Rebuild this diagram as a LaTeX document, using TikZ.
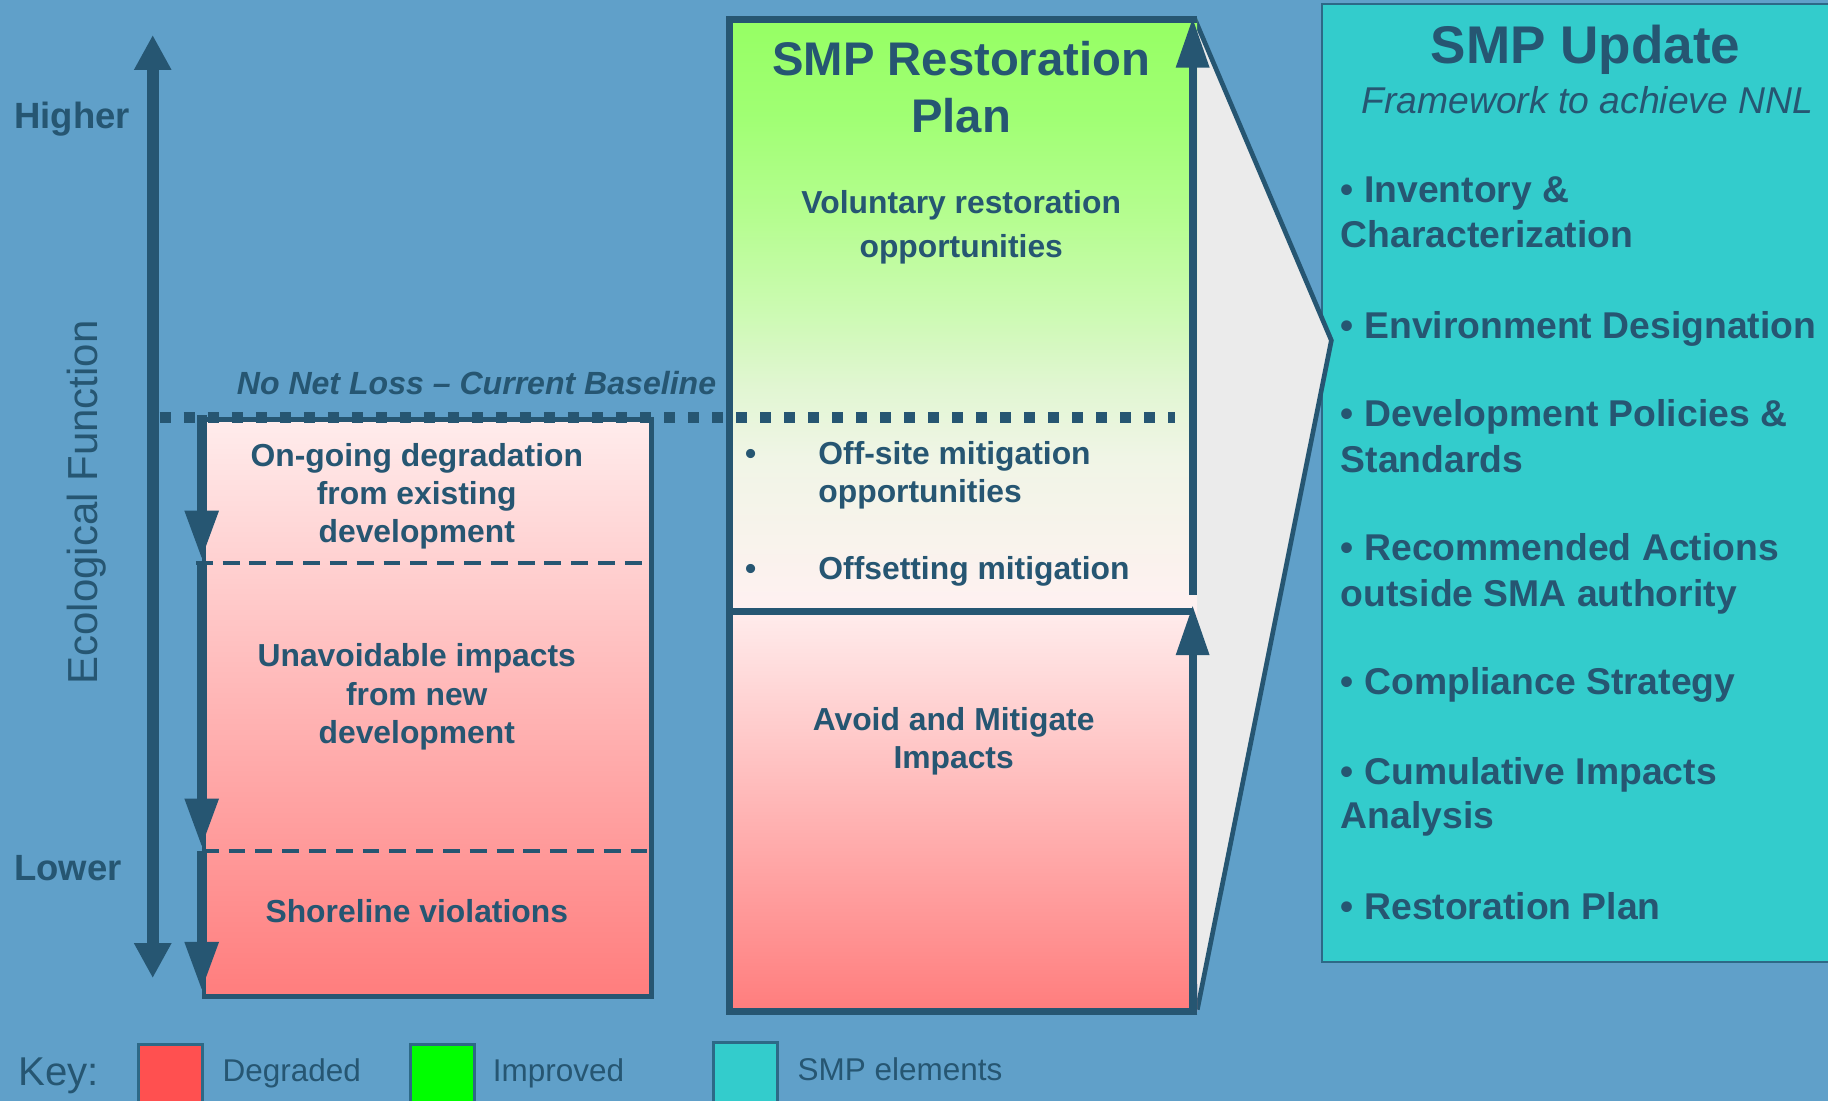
\documentclass[tikz,border=0pt]{standalone}
\usepackage{fontspec}
\setmainfont{Liberation Sans}
\usetikzlibrary{arrows.meta}
\definecolor{bgblue}{RGB}{96,160,201}
\definecolor{darkc}{RGB}{38,86,114}
\definecolor{tealc}{RGB}{51,204,204}
\definecolor{tealedge}{RGB}{45,105,135}
\definecolor{grayc}{RGB}{235,235,235}
\definecolor{pinkT}{RGB}{255,236,236}
\definecolor{pinkB}{RGB}{255,125,125}
\definecolor{gA}{RGB}{150,255,100}
\definecolor{gB}{RGB}{160,255,115}
\definecolor{gC}{RGB}{182,253,145}
\definecolor{gD}{RGB}{205,250,180}
\definecolor{gE}{RGB}{225,246,210}
\definecolor{gF}{RGB}{240,245,230}
\definecolor{gG}{RGB}{255,241,241}
\definecolor{keyred}{RGB}{255,80,80}
\definecolor{keygreen}{RGB}{0,255,0}
\pgfdeclareverticalshading{pinkshade}{100bp}{color(0bp)=(pinkB); color(25bp)=(pinkB); color(75bp)=(pinkT); color(100bp)=(pinkT)}
\pgfdeclareverticalshading{greenshade}{100bp}{color(0bp)=(gG); color(25bp)=(gG); color(38bp)=(gF); color(44bp)=(gE); color(50bp)=(gD); color(58bp)=(gC); color(67bp)=(gB); color(75bp)=(gA); color(100bp)=(gA)}
\begin{document}
\begin{tikzpicture}[x=1pt,y=-1pt,
  txt/.style={text=darkc, inner sep=0pt},
  body/.style={txt, font=\bfseries\fontsize{27.3}{33}\selectfont},
  axislbl/.style={txt, font=\bfseries\fontsize{31.3}{37}\selectfont},
  ecolbl/.style={txt, font=\fontsize{36}{43}\selectfont},
  nnlbl/.style={txt, font=\bfseries\itshape\fontsize{27.5}{33}\selectfont},
  smptitle/.style={txt, font=\bfseries\fontsize{40.5}{49}\selectfont},
  updtitle/.style={txt, font=\bfseries\fontsize{45.5}{54}\selectfont},
  updsub/.style={txt, font=\itshape\fontsize{32}{38}\selectfont},
  item/.style={txt, font=\bfseries\fontsize{32}{38}\selectfont, anchor=base west},
  keylbl/.style={txt, font=\fontsize{27}{32}\selectfont, anchor=base west},
  keybox/.style={draw=tealedge, line width=2.5pt, minimum width=55pt, minimum height=60pt, inner sep=0pt, anchor=north west},
  bigarrow/.style={draw=darkc, line width=10pt, {Triangle[length=30pt,width=30pt]}-{Triangle[length=30pt,width=30pt]}},
  downarrow/.style={draw=darkc, line width=8.5pt, -{Triangle[length=42pt,width=27pt]}},
  uparrow/.style={draw=darkc, line width=7pt, -{Triangle[length=43pt,width=27pt]}},
  dashline/.style={draw=darkc, line width=3pt, dash pattern=on 14.5pt off 8.5pt},
  dotline/.style={draw=darkc, line width=9.5pt, dash pattern=on 9.5pt off 11.1pt}
]
\useasboundingbox (0,0) rectangle (1568,944);
\clip (0,0) rectangle (1568,944);
\fill[bgblue] (0,0) rectangle (1568,944);

% teal SMP Update box
\node[draw=tealedge, fill=tealc, line width=2pt, minimum width=457pt, minimum height=821.3pt, inner sep=0pt, anchor=north west] (teal) at (1133,2.7) {};

% gray callout
\coordinate (cA) at (1025,16.6);
\coordinate (cT) at (1142,292);
\coordinate (cB) at (1027,866);
\fill[grayc] (cA) -- (cT) -- (cB) -- cycle;
\draw[darkc, line width=4pt] (cA) -- (cT) -- (cB);

% left degraded box
\node[draw=darkc, line width=4pt, shade, shading=pinkshade, minimum width=384pt, minimum height=495pt, inner sep=0pt, anchor=north west] (leftbox) at (173,358) {};

% SMP restoration plan box
\node[shade, shading=greenshade, minimum width=401pt, minimum height=507.4pt, inner sep=0pt, anchor=north west] (smptop) at (625.6,16.6) {};
\node[shade, shading=pinkshade, minimum width=401pt, minimum height=343pt, inner sep=0pt, anchor=north west] (smpbot) at (625.6,524) {};
\draw[darkc, line width=6pt] (smpbot.south east) -- (smpbot.south west) -- (smptop.north west) -- (smptop.north east);
\draw[darkc, line width=6pt] (smptop.south west) -- ([xshift=-4pt]smptop.south east);

% dashed separators
\coordinate (d1L) at (168,483);
\coordinate (d1R) at (560,483);
\coordinate (d2L) at (173,730);
\coordinate (d2R) at (555,730);
\draw[dashline] (d1L) -- (d1R);
\draw[dashline] (d2L) -- (d2R);

% arrows
\coordinate (bigT) at (131,30);
\coordinate (bigB) at (131,839);
\draw[bigarrow] (bigB) -- (bigT);
\coordinate (a1s) at (173,356);
\coordinate (a1e) at (173,480);
\coordinate (a2s) at (173,483);
\coordinate (a2e) at (173,727);
\coordinate (a3s) at (173,730);
\coordinate (a3e) at (173,850);
\draw[downarrow] (a1s) -- (a1e);
\draw[downarrow] (a2s) -- (a2e);
\draw[downarrow] (a3s) -- (a3e);
\coordinate (s1s) at (1023,510);
\coordinate (s1e) at (1023,15);
\coordinate (s2s) at (1023,870);
\coordinate (s2e) at (1023,519);
\draw[uparrow] (s1s) -- (s1e);
\draw[uparrow] (s2s) -- (s2e);

% no net loss dotted baseline
\coordinate (dotL) at (137,358);
\coordinate (dotR) at (1008,358);
\draw[dotline] (dotL) -- (dotR);

% axis labels
\node[axislbl, anchor=base west] (higher) at (12,110) {Higher};
\node[axislbl, anchor=base west] (lower) at (12,755) {Lower};
\node[ecolbl, rotate=90, anchor=base] (eco) at (84,431) {Ecological Function};
\node[nnlbl, anchor=base west] (nnl) at (203,338.5) {No Net Loss -- Current Baseline};

% left box texts
\node[body, anchor=base] (og1) at (357.5,400) {On-going degradation};
\node[body, anchor=base] (og2) at (357.5,432.5) {from existing};
\node[body, anchor=base] (og3) at (357.5,465) {development};
\node[body, anchor=base] (un1) at (357.5,572) {Unavoidable impacts};
\node[body, anchor=base] (un2) at (357.5,605) {from new};
\node[body, anchor=base] (un3) at (357.5,637.5) {development};
\node[body, anchor=base] (shv) at (357.5,791.5) {Shoreline violations};

% SMP restoration plan texts
\node[smptitle, anchor=base] (rp1) at (824.5,64.4) {SMP Restoration};
\node[smptitle, anchor=base] (rp2) at (824.5,113.6) {Plan};
\node[body, anchor=base] (vo1) at (824.5,183) {Voluntary restoration};
\node[body, anchor=base] (vo2) at (824.5,220.5) {opportunities};
\node[body, anchor=base] (b1) at (644,398.5) {\textbullet};
\node[body, anchor=base west] (of1) at (701.8,398.5) {Off-site mitigation};
\node[body, anchor=base west] (of2) at (701.8,430.7) {opportunities};
\node[body, anchor=base] (b2) at (644,496.8) {\textbullet};
\node[body, anchor=base west] (os1) at (701.8,496.8) {Offsetting mitigation};
\node[body, anchor=base] (av1) at (818,627) {Avoid and Mitigate};
\node[body, anchor=base] (av2) at (818,659.4) {Impacts};

% SMP update texts
\node[updtitle, anchor=base] (ut) at (1360,54.7) {SMP Update};
\node[updsub, anchor=base] (us) at (1361.5,97.4) {Framework to achieve NNL};
\node[item] (i1a) at (1150,174) {\textbullet{} Inventory \&};
\node[item] (i1b) at (1150,212) {Characterization};
\node[item] (i2) at (1150,290) {\textbullet{} Environment Designation};
\node[item] (i3a) at (1150,365.5) {\textbullet{} Development Policies \&};
\node[item] (i3b) at (1150,405) {Standards};
\node[item] (i4a) at (1150,481) {\textbullet{} Recommended Actions};
\node[item] (i4b) at (1150,520) {outside SMA authority};
\node[item] (i5) at (1150,596) {\textbullet{} Compliance Strategy};
\node[item] (i6a) at (1150,673) {\textbullet{} Cumulative Impacts};
\node[item] (i6b) at (1150,711) {Analysis};
\node[item] (i7) at (1150,789) {\textbullet{} Restoration Plan};

% key
\node[txt, font=\fontsize{34.5}{40}\selectfont, anchor=base west] (key) at (15.6,931) {Key:};
\node[keybox, fill=keyred] (kred) at (117.7,894.4) {};
\node[keylbl] (kdeg) at (190.8,928) {Degraded};
\node[keybox, fill=keygreen] (kgreen) at (350.8,894.4) {};
\node[keylbl] (kimp) at (422.6,928) {Improved};
\node[keybox, fill=tealc] (kteal) at (611,893) {};
\node[keylbl] (ksmp) at (684,927) {SMP elements};
\end{tikzpicture}
\end{document}
